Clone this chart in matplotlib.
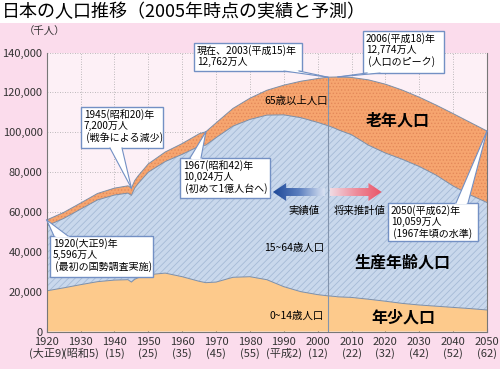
import numpy as np
import matplotlib.pyplot as plt
from matplotlib.patches import Rectangle, Polygon
from matplotlib.lines import Line2D
from matplotlib.colors import LinearSegmentedColormap

plt.rcParams['font.family'] = ['Noto Sans CJK JP', 'DejaVu Sans']
plt.rcParams['hatch.linewidth'] = 0.6

# population (thousands)
years = [1920, 1925, 1930, 1935, 1940, 1944, 1945, 1946, 1947, 1950, 1955, 1960, 1965, 1967,
         1970, 1975, 1980, 1985, 1990, 1995, 2000, 2003, 2005, 2006, 2010, 2015, 2020, 2025,
         2030, 2035, 2040, 2045, 2050]
total = [55960, 59737, 64450, 69254, 71933, 73100, 72000, 75750, 78101, 84115, 90077, 94302,
         99209, 100240, 104665, 111940, 117060, 121049, 123611, 125570, 126926, 127620, 127700,
         127740, 127473, 126266, 124107, 121136, 117580, 113602, 109338, 104960, 100593]
young = [20400, 21900, 23500, 25000, 25800, 26000, 24800, 26200, 27000, 28500, 29300, 27500,
         25200, 24500, 24800, 27200, 27500, 26000, 22500, 20000, 18500, 17900, 17600, 17400,
         17100, 16200, 15200, 14100, 13300, 12700, 12100, 11500, 10800]
elderly = [2941, 3021, 3064, 3225, 3454, 3650, 3700, 3750, 3867, 4155, 4786, 5398, 6236, 6700,
           7393, 8865, 10647, 12468, 14895, 18261, 22005, 24310, 25670, 26500, 28735, 32772,
           34559, 34726, 34770, 35145, 36332, 36396, 35863]

xticks = list(range(1920, 2051, 10))
xlabels = ['1920\n(大正9)', '1930\n(昭和5)', '1940\n(15)', '1950\n(25)', '1960\n(35)',
           '1970\n(45)', '1980\n(55)', '1990\n(平成2)', '2000\n(12)', '2010\n(22)',
           '2020\n(32)', '2030\n(42)', '2040\n(52)', '2050\n(62)']
yticks = list(range(0, 140001, 20000))

W, H = 500, 369
fig = plt.figure(figsize=(5, 3.69), dpi=100)
fig.patch.set_facecolor('white')
fig.patches.append(Rectangle((0, 0), 1, 1 - 23 / H, transform=fig.transFigure,
                             facecolor='#fbdcec', edgecolor='none', zorder=-10))


def fp(px, py):
    return (px / W, 1 - py / H)


ax = fig.add_axes([46.7 / W, 1 - 331.5 / H, (487 - 46.7) / W, (331.5 - 52.5) / H])
ax.set_facecolor('#fdf0f6')

yr = np.array(years)
tot = np.array(total)
yg = np.array(young)
old = np.array(elderly)
work_top = tot - old

ax.fill_between(yr, 0, yg, facecolor='#fdca8c', edgecolor='none', zorder=1)
ax.fill_between(yr, yg, work_top, facecolor='#c9d8ec', hatch='/////', edgecolor='#a6bad6',
                linewidth=0, zorder=1)
ax.fill_between(yr, work_top, tot, facecolor='#f6a56f', hatch='.....', edgecolor='#e4895a',
                linewidth=0, zorder=1)
for arr in (yg, work_top, tot):
    ax.plot(yr, arr, color='#7d8fa8', lw=0.7, zorder=2)

i03 = years.index(2003)
ax.plot([2003, 2003], [0, total[i03]], color='#8394ad', lw=0.8, zorder=2)


def grad_arrow(x_tail, x_tip, yc, colors):
    d = np.sign(x_tip - x_tail)
    hl, sh, hh = 3.9, 2000, 4500
    verts = [(x_tail, yc - sh), (x_tip - d * hl, yc - sh), (x_tip - d * hl, yc - hh),
             (x_tip, yc), (x_tip - d * hl, yc + hh), (x_tip - d * hl, yc + sh), (x_tail, yc + sh)]
    poly = Polygon(verts, closed=True, facecolor='none', edgecolor='none')
    ax.add_patch(poly)
    cmap = LinearSegmentedColormap.from_list('g', colors)
    grad = np.linspace(0, 1, 256).reshape(1, -1)
    im = ax.imshow(grad, extent=[min(x_tail, x_tip), max(x_tail, x_tip), yc - hh, yc + hh],
                   cmap=cmap, aspect='auto', zorder=3, interpolation='bilinear')
    im.set_clip_path(poly)


grad_arrow(2002.1, 1986.8, 70000, ['#1d4797', '#5b7fbf', '#dbe4f3'])
grad_arrow(2003.6, 2018.9, 70000, ['#f1dbe3', '#ee8d9c', '#ea5468'])

ax.set_xlim(1920, 2050)
ax.set_ylim(0, 140000)
ax.set_xticks(xticks)
ax.set_xticklabels(xlabels)
ax.set_yticks(yticks)
ax.set_yticklabels([f'{v:,}' for v in yticks])
for lbl in ax.get_xticklabels():
    lbl.set_linespacing(1.1)
ax.tick_params(axis='x', direction='in', length=3, pad=4, labelsize=8, color='#777777',
               labelcolor='#333333')
ax.tick_params(axis='y', length=0, pad=3, labelsize=8, labelcolor='#333333')
ax.grid(True, color='#a8a8a8', linestyle=(0, (1, 2)), lw=0.6)
ax.set_axisbelow(True)
ax.spines['top'].set_visible(False)
for s in ('left', 'right', 'bottom'):
    ax.spines[s].set_color('#777777')
    ax.spines[s].set_linewidth(0.8)

BORDER = '#7390c4'
to_fig = fig.transFigure.inverted()


def callout(text, year, box, base):
    # box: (x0, y0, x1, y1) in pixels; base: two pixel points on the box edge
    x0, y0, x1, y1 = box
    bx, by = fp(x0, y1)
    fig.add_artist(Rectangle((bx, by), (x1 - x0) / W, (y1 - y0) / H, transform=fig.transFigure,
                             facecolor='white', edgecolor=BORDER, lw=1, zorder=5))
    i = years.index(year)
    tip = to_fig.transform(ax.transData.transform((years[i], total[i])))
    p1, p2 = np.array(fp(*base[0])), np.array(fp(*base[1]))
    cen = np.array(fp((x0 + x1) / 2, (y0 + y1) / 2))
    q1 = p1 + (cen - p1) * 0.06
    q2 = p2 + (cen - p2) * 0.06
    fig.add_artist(Polygon([q1, p1, tip, p2, q2], closed=True, transform=fig.transFigure,
                           facecolor='white', edgecolor='none', zorder=6))
    for p in (p1, p2):
        fig.add_artist(Line2D([p[0], tip[0]], [p[1], tip[1]], transform=fig.transFigure,
                              color=BORDER, lw=0.8, zorder=7))
    fig.text(*fp(x0 + 3, y0 + 2), text, ha='left', va='top', fontsize=7.2, linespacing=1.12,
             zorder=8)


callout('1920(大正9)年\n5,596万人\n (最初の国勢調査実施)', 1920,
        (50, 236, 153, 277), [(54, 236), (68, 236)])
callout('1945(昭和20)年\n7,200万人\n (戦争による減少)', 1945,
        (81, 107, 163, 148), [(110, 148), (122, 148)])
callout('1967(昭和42)年\n10,024万人\n (初めて1億人台へ)', 1967,
        (180, 158, 270, 198), [(190, 158), (201, 158)])
callout('現在、2003(平成15)年\n12,762万人', 2003,
        (194, 43, 302, 71), [(284, 71), (299, 71)])
callout('2006(平成18)年\n12,774万人\n (人口のピーク)', 2006,
        (363, 31, 444, 73), [(367, 73), (380, 73)])
callout('2050(平成62)年\n10,059万人\n (1967年頃の水準)', 2050,
        (388, 203, 478, 241), [(456, 203), (468, 203)])

fig.text(*fp(2, 12), '日本の人口推移（2005年時点の実績と予測）', ha='left', va='center',
         fontsize=13)
fig.text(*fp(45, 32), '（千人）', ha='center', va='center', fontsize=7.5, color='#333333')

fig.text(*fp(296, 101), '65歳以上人口', ha='center', va='center', fontsize=7.5)
fig.text(*fp(398, 121), '老年人口', ha='center', va='center', fontsize=11.5, fontweight='bold')
fig.text(*fp(324, 248), '15~64歳人口', ha='right', va='center', fontsize=7.5)
fig.text(*fp(403, 263), '生産年齢人口', ha='center', va='center', fontsize=11.5,
         fontweight='bold')
fig.text(*fp(324, 316), '0~14歳人口', ha='right', va='center', fontsize=7.5)
fig.text(*fp(403, 318), '年少人口', ha='center', va='center', fontsize=11.5, fontweight='bold')
fig.text(*fp(304, 211), '実績値', ha='center', va='center', fontsize=7.5)
fig.text(*fp(360, 211), '将来推計値', ha='center', va='center', fontsize=7.5)

fig.savefig('out.png', dpi=100)
